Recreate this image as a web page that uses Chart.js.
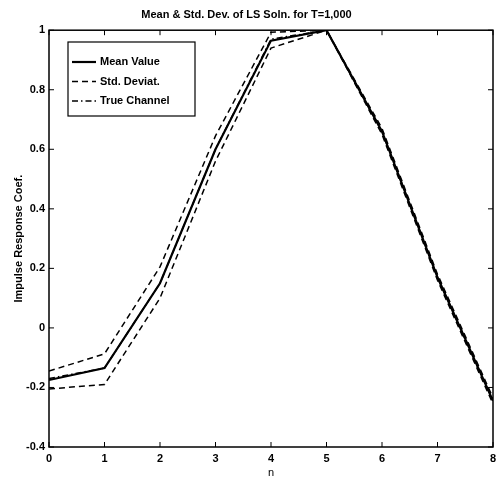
<!DOCTYPE html>
<html>
<head>
<meta charset="utf-8">
<script src="https://cdn.jsdelivr.net/npm/chart.js@4"></script>
<style>
  html, body { margin: 0; padding: 0; background: #fff; }
  #wrap { width: 496px; height: 477px; }
</style>
</head>
<body>
<div id="wrap"><canvas id="chart" width="496" height="477"></canvas></div>
<script>
// data
const nVals = [0, 1, 2, 3, 4, 5, 6, 7, 8];
const meanVals = [-0.175, -0.135, 0.15, 0.60, 0.965, 1.0, 0.66, 0.17, -0.245];
const stdUpper = [-0.145, -0.087, 0.205, 0.645, 0.993, 1.0, 0.67, 0.18, -0.235];
const stdLower = [-0.205, -0.19, 0.10, 0.56, 0.94, 1.0, 0.65, 0.16, -0.255];
const trueVals = [-0.17, -0.135, 0.15, 0.60, 0.97, 1.0, 0.66, 0.17, -0.245];
const yTicks = [-0.4, -0.2, 0, 0.2, 0.4, 0.6, 0.8, 1];

const FONT = "'Liberation Sans', Arial, sans-serif";

function pts(ys) {
    return nVals.map((x, i) => ({ x: x, y: ys[i] }));
}

// MATLAB style box with inward ticks, plus the legend box
const boxTicks = {
    id: 'boxTicks',
    afterDraw(chart) {
        const ctx = chart.ctx;
        const a = chart.chartArea;
        const xs = chart.scales.x, ys = chart.scales.y;
        ctx.save();
        ctx.strokeStyle = '#000';
        ctx.lineWidth = 1.5;
        ctx.strokeRect(a.left, a.top, a.right - a.left, a.bottom - a.top);
        ctx.lineWidth = 1;
        const len = 5;
        ctx.beginPath();
        nVals.forEach(v => {
            const px = xs.getPixelForValue(v);
            ctx.moveTo(px, a.bottom); ctx.lineTo(px, a.bottom - len);
            ctx.moveTo(px, a.top); ctx.lineTo(px, a.top + len);
        });
        yTicks.forEach(v => {
            const py = ys.getPixelForValue(v);
            ctx.moveTo(a.left, py); ctx.lineTo(a.left + len, py);
            ctx.moveTo(a.right, py); ctx.lineTo(a.right - len, py);
        });
        ctx.stroke();

        // legend
        const lx = 68, ly = 42, lw = 127, lh = 74;
        ctx.fillStyle = '#fff';
        ctx.fillRect(lx, ly, lw, lh);
        ctx.lineWidth = 1.2;
        ctx.strokeRect(lx, ly, lw, lh);
        ctx.font = 'bold 11px ' + FONT;
        ctx.textBaseline = 'middle';
        ctx.fillStyle = '#000';
        chart.data.datasets.forEach(ds => {
            if (!ds.label) return;
            const y = 62 + ds.legendRow * 19.5;
            ctx.setLineDash(ds.borderDash || []);
            ctx.lineWidth = ds.borderWidth;
            ctx.beginPath();
            ctx.moveTo(72, y); ctx.lineTo(96, y);
            ctx.stroke();
            ctx.setLineDash([]);
            ctx.fillText(ds.label, 100, y);
        });
        ctx.restore();
    }
};

new Chart(document.getElementById('chart').getContext('2d'), {
    type: 'line',
    data: {
        datasets: [
            {
                label: 'Mean Value', legendRow: 0,
                data: pts(meanVals),
                borderColor: '#000', borderWidth: 2.2, pointRadius: 0, tension: 0
            },
            {
                label: 'Std. Deviat.', legendRow: 1,
                data: pts(stdUpper),
                borderColor: '#000', borderWidth: 1.5, borderDash: [6, 4], pointRadius: 0, tension: 0
            },
            {
                label: '', legendRow: -1,
                data: pts(stdLower),
                borderColor: '#000', borderWidth: 1.5, borderDash: [6, 4], pointRadius: 0, tension: 0
            },
            {
                label: 'True Channel', legendRow: 2,
                data: pts(trueVals),
                borderColor: '#000', borderWidth: 1.5, borderDash: [6, 3, 1.5, 3], pointRadius: 0, tension: 0
            }
        ]
    },
    options: {
        responsive: false,
        animation: false,
        layout: { padding: { top: 0, right: 3, bottom: 0, left: 0 } },
        plugins: {
            legend: { display: false },
            tooltip: { enabled: false },
            title: {
                display: true,
                text: 'Mean & Std. Dev. of LS Soln. for T=1,000',
                color: '#000',
                font: { family: FONT, size: 11, weight: 'bold' },
                padding: { top: 8, bottom: 9 }
            }
        },
        scales: {
            x: {
                type: 'linear',
                min: 0, max: 8,
                afterFit(s) { s.height = 30; s.paddingLeft = 0; s.paddingRight = 0; },
                grid: { display: false, drawTicks: false, tickLength: 0 },
                border: { display: false },
                ticks: {
                    stepSize: 1, color: '#000', padding: 5,
                    font: { family: FONT, size: 11, weight: 'bold' }
                },
                title: {
                    display: true, text: 'n', color: '#000',
                    font: { family: FONT, size: 11 },
                    padding: { top: 0, bottom: -3 }
                }
            },
            y: {
                min: -0.4, max: 1,
                afterFit(s) { s.width = 49; },
                afterBuildTicks(s) { s.ticks = yTicks.map(v => ({ value: v })); },
                grid: { display: false, drawTicks: false, tickLength: 0 },
                border: { display: false },
                ticks: {
                    color: '#000', padding: 4,
                    font: { family: FONT, size: 11, weight: 'bold' },
                    callback: v => String(Math.round(v * 10) / 10)
                },
                title: {
                    display: true, text: 'Impulse Response Coef.', color: '#000',
                    font: { family: FONT, size: 11, weight: 'bold' },
                    padding: { top: 12, bottom: 0 }
                }
            }
        }
    },
    plugins: [boxTicks]
});
</script>
</body>
</html>
